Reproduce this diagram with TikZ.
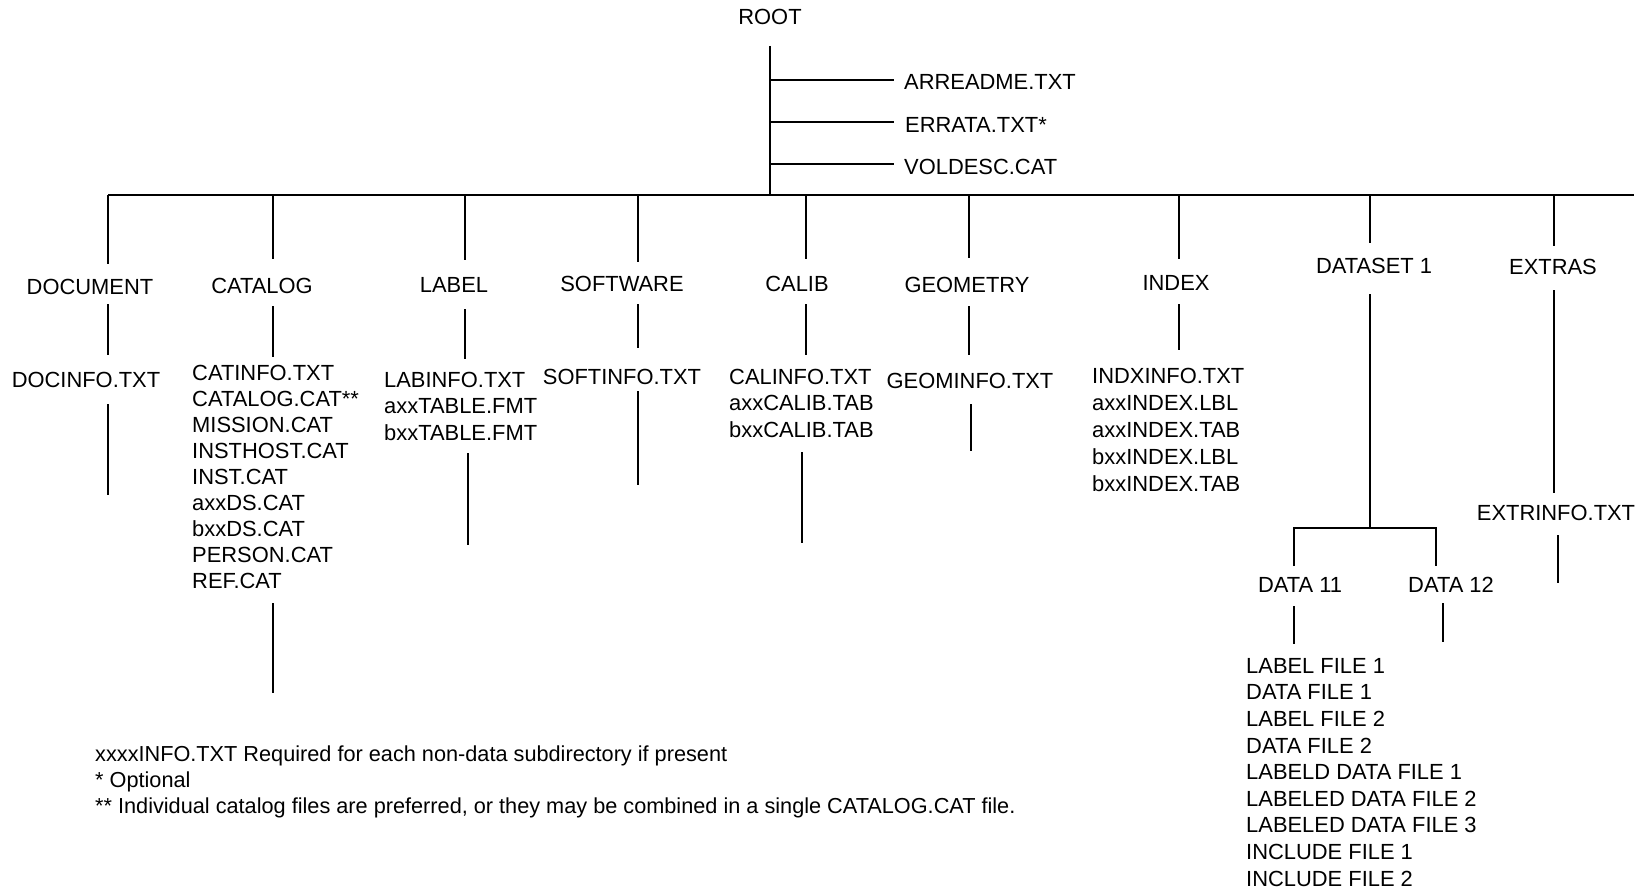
\documentclass[tikz,border=0pt]{standalone}
\usepackage{fontspec}
\setmainfont{Liberation Sans}
\begin{document}
\begin{tikzpicture}[x=1pt,y=-1pt,
  ln/.style={line width=2pt},
  lbl/.style={inner sep=0pt, font=\fontsize{21.9}{26}\selectfont},
  lst/.style={inner sep=0pt, anchor=north west, align=left, font=\fontsize{21.9}{26.5}\selectfont},
  foot/.style={inner sep=0pt, anchor=north west, align=left, font=\fontsize{21.7}{26}\selectfont}
]
\useasboundingbox (0,0) rectangle (1645,891);
% root
\node[lbl] (root) at (770,17) {ROOT};
\coordinate (rtop) at (770,46);
\coordinate (rbot) at (770,195);
\draw[ln] (rtop) -- (rbot);
\node[lbl,anchor=west] (arr) at (904,82) {ARREADME.TXT};
\node[lbl,anchor=west] (err) at (905,125) {ERRATA.TXT*};
\node[lbl,anchor=west] (vol) at (904,167) {VOLDESC.CAT};
\coordinate (b1) at (894,80);
\coordinate (b2) at (894,122);
\coordinate (b3) at (894,164);
\draw[ln] (rtop |- b1) -- (b1);
\draw[ln] (rtop |- b2) -- (b2);
\draw[ln] (rtop |- b3) -- (b3);
% bus
\coordinate (busl) at (108,195);
\coordinate (busr) at (1634,195);
\draw[ln] (busl) -- (busr);
% directory labels
\node[lbl] (doc) at (90,287) {DOCUMENT};
\node[lbl] (cat) at (262,286) {CATALOG};
\node[lbl] (lab) at (454,285) {LABEL};
\node[lbl] (soft) at (622,284) {SOFTWARE};
\node[lbl] (cal) at (797,284) {CALIB};
\node[lbl] (geo) at (967,285) {GEOMETRY};
\node[lbl] (idx) at (1176,283) {INDEX};
\node[lbl] (ds) at (1374,266) {DATASET 1};
\node[lbl] (ext) at (1553,267) {EXTRAS};
% drops from bus
\foreach \x/\b in {108/264, 273/259, 465/260, 638/262, 806/259, 969/258, 1179/259, 1370/243, 1554/246}
  \draw[ln] (\x,195) -- (\x,\b);
% files
\node[lbl] (docinfo) at (86,380) {DOCINFO.TXT};
\node[lst,font=\fontsize{21.9}{26}\selectfont] (catlist) at (192,365) {CATINFO.TXT\\CATALOG.CAT**\\MISSION.CAT\\INSTHOST.CAT\\INST.CAT\\axxDS.CAT\\bxxDS.CAT\\PERSON.CAT\\REF.CAT};
\node[lst] (lablist) at (384,372) {LABINFO.TXT\\axxTABLE.FMT\\bxxTABLE.FMT};
\node[lbl] (softinfo) at (622,377) {SOFTINFO.TXT};
\node[lst] (callist) at (729,369) {CALINFO.TXT\\axxCALIB.TAB\\bxxCALIB.TAB};
\node[lbl] (geoinfo) at (970,381) {GEOMINFO.TXT};
\node[lst,font=\fontsize{21.9}{27}\selectfont] (idxlist) at (1092,368) {INDXINFO.TXT\\axxINDEX.LBL\\axxINDEX.TAB\\bxxINDEX.LBL\\bxxINDEX.TAB};
\node[lbl] (extinfo) at (1556,513) {EXTRINFO.TXT};
% label-to-file segments
\draw[ln] (108,304) -- (108,355);
\draw[ln] (273,306) -- (273,357);
\draw[ln] (465,309) -- (465,359);
\draw[ln] (638,304) -- (638,348);
\draw[ln] (806,304) -- (806,355);
\draw[ln] (969,306) -- (969,355);
\draw[ln] (1179,304) -- (1179,350);
\draw[ln] (1554,290) -- (1554,493);
% tails below files
\draw[ln] (108,404) -- (108,495);
\draw[ln] (273,603) -- (273,693);
\draw[ln] (468,453) -- (468,545);
\draw[ln] (638,391) -- (638,485);
\draw[ln] (802,452) -- (802,543);
\draw[ln] (971,404) -- (971,451);
\draw[ln] (1558,535) -- (1558,583);
% dataset subtree
\coordinate (dsj) at (1370,528);
\draw[ln] (1370,294) -- (dsj);
\draw[ln] (1294,566) -- (1294,528) -- (1436,528) -- (1436,566);
\node[lbl] (d11) at (1300,585) {DATA 11};
\node[lbl] (d12) at (1451,585) {DATA 12};
\draw[ln] (1294,606) -- (1294,644);
\draw[ln] (1443,603) -- (1443,642);
\node[lst,font=\fontsize{21.9}{26.6}\selectfont] (d11list) at (1246,658) {LABEL FILE 1\\DATA FILE 1\\LABEL FILE 2\\DATA FILE 2\\LABELD DATA FILE 1\\LABELED DATA FILE 2\\LABELED DATA FILE 3\\INCLUDE FILE 1\\INCLUDE FILE 2};
% footnotes
\node[foot] (notes) at (95,746) {xxxxINFO.TXT Required for each non-data subdirectory if present\\* Optional\\** Individual catalog files are preferred, or they may be combined in a single CATALOG.CAT file.};
\end{tikzpicture}
\end{document}
